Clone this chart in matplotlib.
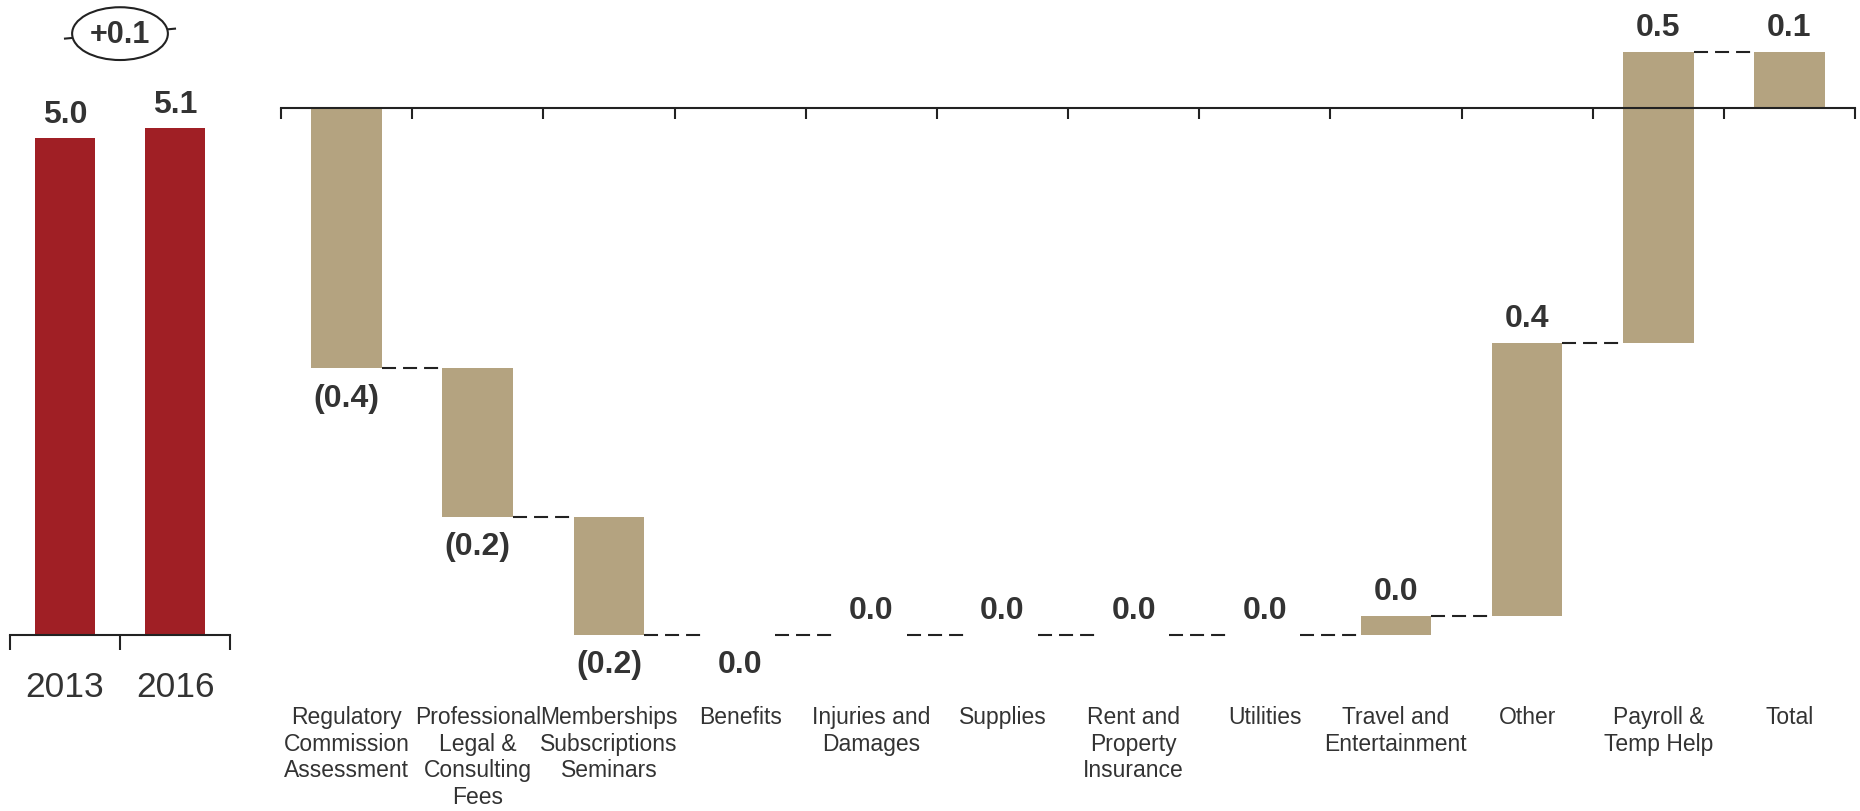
import matplotlib.pyplot as plt
import numpy as np

# totals for the two years
years = ["2013", "2016"]
totals = [5.0, 5.1]

# bridge categories (change 2013 -> 2016)
categories = [
    "Regulatory\nCommission\nAssessment",
    "Professional\nLegal &\nConsulting\nFees",
    "Memberships\nSubscriptions\nSeminars",
    "Benefits",
    "Injuries and\nDamages",
    "Supplies",
    "Rent and\nProperty\nInsurance",
    "Utilities",
    "Travel and\nEntertainment",
    "Other",
    "Payroll &\nTemp Help",
]
changes = [-0.42, -0.24, -0.19, -0.0002, 0.0002, 0.0002, 0.0002, 0.0002, 0.03, 0.44, 0.47]
total_label = "Total"

RED = "#A01F25"
TAN = "#B4A380"
INK = "#333333"
LINE = "#222222"

plt.rcParams["font.family"] = ["Liberation Sans", "DejaVu Sans"]

W, H = 1860, 812
fig = plt.figure(figsize=(W / 100, H / 100), dpi=100)


def fmt(v):
    s = f"{abs(v):.1f}"
    if v < 0 and round(v, 1) != 0:
        return f"({s})"
    return s


def strip_axes(ax):
    for s in ["left", "right", "top"]:
        ax.spines[s].set_visible(False)
    ax.spines["bottom"].set_linewidth(1.5)
    ax.spines["bottom"].set_color(LINE)
    ax.set_yticks([])
    ax.tick_params(axis="x", direction="out", width=1.5, color=LINE, labelbottom=False)


# ---- left panel: 2013 vs 2016 ----
base_px, ppu_l = 636, 99.4
axl = fig.add_axes([10 / W, (H - base_px) / H, 220 / W, base_px / H])
xl = np.arange(len(years))
axl.bar(xl, totals, width=0.54, color=RED)
axl.set_xlim(-0.5, len(years) - 0.5)
axl.set_ylim(0, base_px / ppu_l)
strip_axes(axl)
axl.set_xticks(np.arange(-0.5, len(years)))
axl.tick_params(axis="x", length=11)

for xi, v, yr in zip(xl, totals, years):
    axl.annotate(f"{v:.1f}", (xi, v), xytext=(0, 17), textcoords="offset points",
                 ha="center", va="center", fontsize=23, fontweight="bold", color=INK)
    axl.annotate(yr, (xi, 0), xytext=(0, -37), textcoords="offset points",
                 ha="center", va="center", fontsize=25.5, color=INK)

# difference bubble
lift = 1.0
axl.plot(xl, np.array(totals) + lift, color=LINE, lw=1.5, zorder=2, clip_on=False)
axl.text(0.5, np.mean(totals) + lift, f"{totals[1] - totals[0]:+.1f}",
         ha="center", va="center", fontsize=22, fontweight="bold", color=INK, zorder=3,
         bbox=dict(boxstyle="ellipse,pad=0.12", fc="white", ec=LINE, lw=1.5))

# ---- right panel: waterfall ----
zero_px, ppu_r = 109, 620
n = len(categories) + 1
axr = fig.add_axes([281 / W, 0, 1574 / W, 1])
axr.set_xlim(-0.5, n - 0.5)
axr.set_ylim(-(H - zero_px) / ppu_r, zero_px / ppu_r)
strip_axes(axr)
axr.spines["bottom"].set_position(("data", 0))
axr.set_xticks(np.arange(-0.5, n))
axr.tick_params(axis="x", length=8)

cum = np.cumsum(changes)
starts = np.r_[0, cum[:-1]]
idx = np.arange(len(changes))
bw = 0.54
axr.bar(idx, changes, bottom=starts, width=bw, color=TAN, zorder=2)
axr.bar(n - 1, cum[-1], width=bw, color=TAN, zorder=2)

# connectors
dash = (0, (14 / 2.08, 7 / 2.08))
for i in range(n - 1):
    axr.plot([i + bw / 2, i + 1 - bw / 2], [cum[i], cum[i]], color=LINE, lw=1.5, ls=dash)

# value labels
vals = list(changes) + [cum[-1]]
lows = list(np.minimum(starts, cum)) + [0]
highs = list(np.maximum(starts, cum)) + [cum[-1]]
for i, v in enumerate(vals):
    if v < 0:
        axr.annotate(fmt(v), (i, lows[i]), xytext=(0, -21), textcoords="offset points",
                     ha="center", va="center", fontsize=23, fontweight="bold", color=INK)
    else:
        axr.annotate(fmt(v), (i, highs[i]), xytext=(0, 18), textcoords="offset points",
                     ha="center", va="center", fontsize=23, fontweight="bold", color=INK)

# category labels
label_top = (H - 706) / H
for i, lab in enumerate(categories + [total_label]):
    axr.text(i, label_top, lab, transform=axr.get_xaxis_transform(), ha="center", va="top",
             fontsize=16.5, linespacing=1.2, color=INK)

fig.savefig("out.png", dpi=100, facecolor="white")
